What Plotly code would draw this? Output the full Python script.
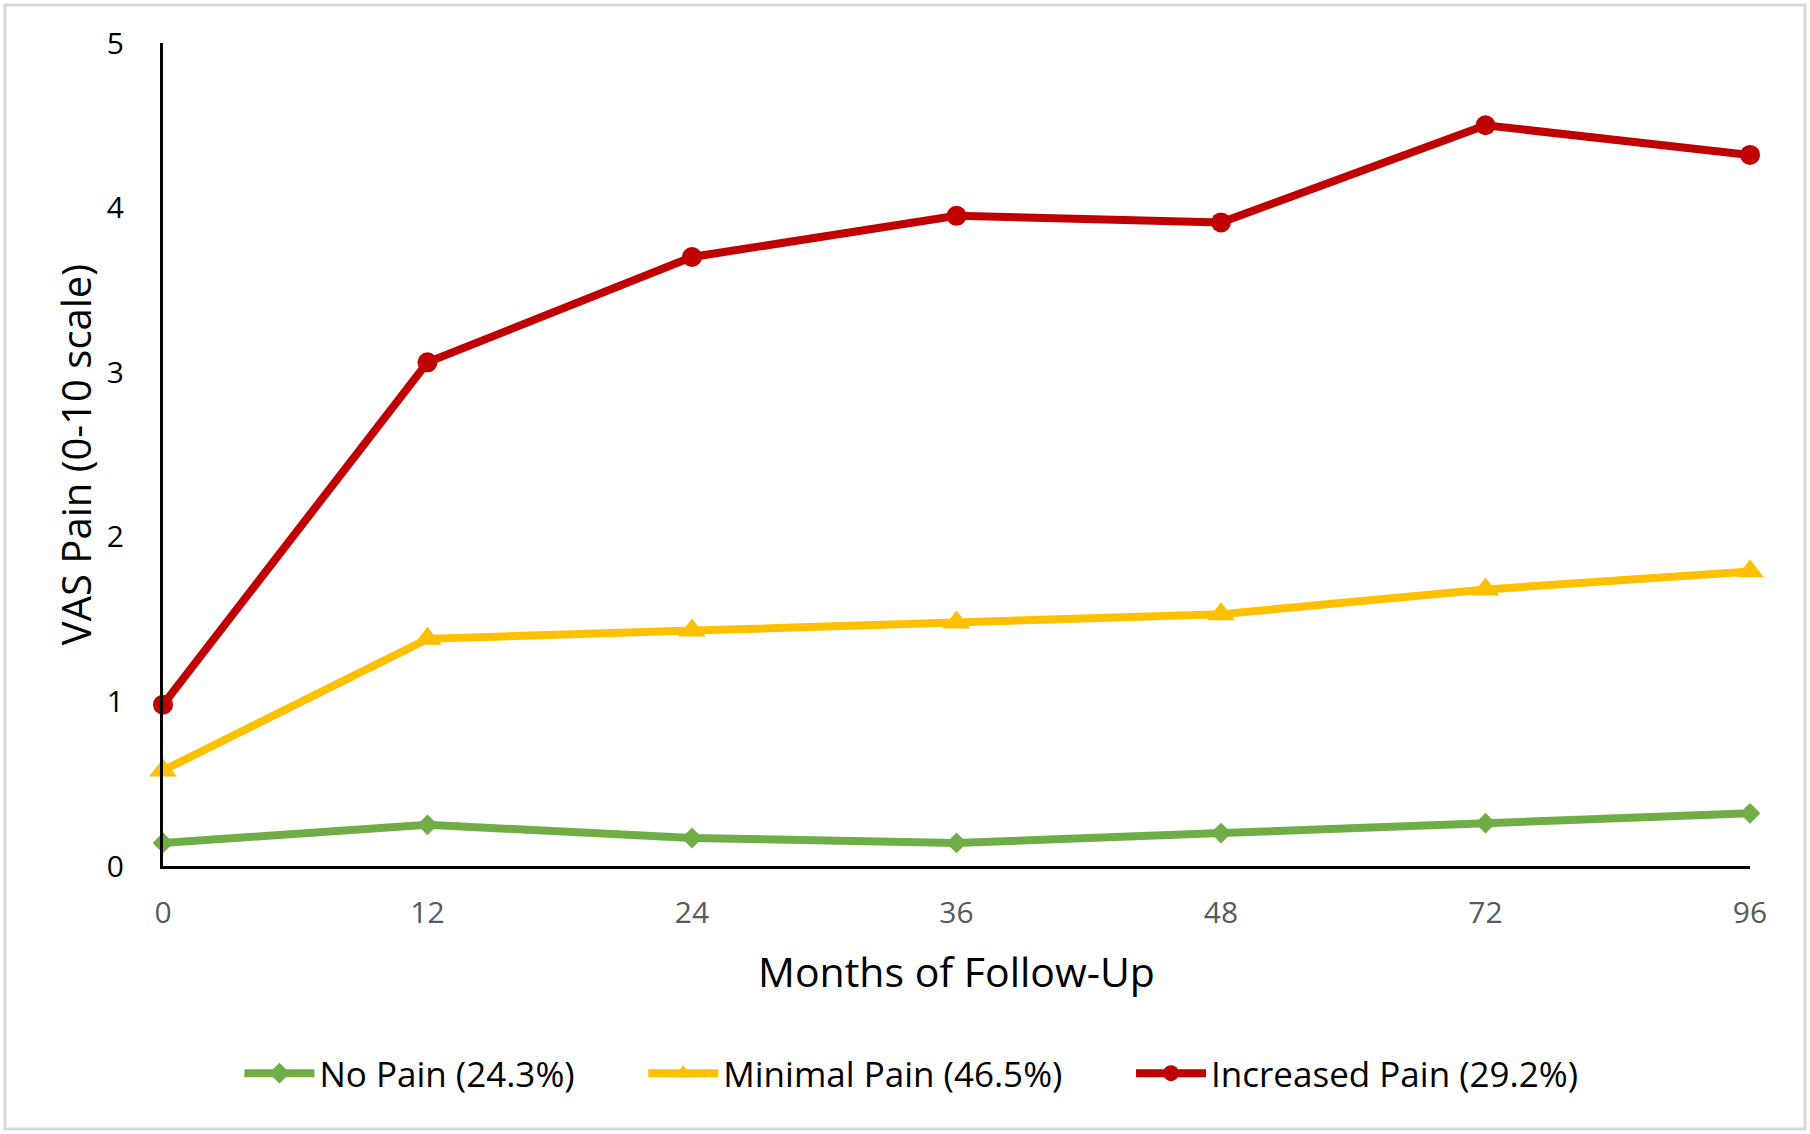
import plotly.graph_objects as go

months = ["0", "12", "24", "36", "48", "72", "96"]
no_pain = [0.14, 0.25, 0.17, 0.14, 0.20, 0.26, 0.32]
minimal_pain = [0.58, 1.38, 1.43, 1.48, 1.53, 1.68, 1.79]
increased_pain = [0.98, 3.06, 3.70, 3.95, 3.91, 4.50, 4.32]
y_ticks = [0, 1, 2, 3, 4, 5]

series_names = ["No Pain (24.3%)", "Minimal Pain (46.5%)", "Increased Pain (29.2%)"]
colors = ["#70AD47", "#FFC000", "#C00000"]
symbols = ["diamond", "triangle-up", "circle"]
sizes = [16, 24, 20]

FONT = "Open Sans"
GAP = "\u00a0" * 7  # spacing between legend entries

fig = go.Figure()
for i, (name, vals, col, sym, sz) in enumerate(zip(series_names, [no_pain, minimal_pain, increased_pain],
                                                   colors, symbols, sizes)):
    label = name + (GAP if i < len(series_names) - 1 else "")
    fig.add_trace(go.Scatter(
        x=months, y=vals, name=label, mode="lines+markers",
        line=dict(color=col, width=8),
        marker=dict(symbol=sym, size=sz, color=col, line=dict(width=0)),
        cliponaxis=False,
    ))

fig.update_layout(
    template="none",
    width=1810, height=1134,
    margin=dict(l=163, r=60, t=43, b=268, autoexpand=False),
    paper_bgcolor="white", plot_bgcolor="white",
    font=dict(family=FONT, color="black"),
    showlegend=True,
    legend=dict(
        orientation="h", x=0.4716, xanchor="center", y=-0.252, yanchor="middle",
        font=dict(family=FONT, size=35, color="black"),
        itemwidth=70, itemsizing="trace", traceorder="normal",
        bgcolor="rgba(0,0,0,0)", itemclick=False, itemdoubleclick=False,
    ),
    xaxis=dict(
        type="category", range=[0, 6], showgrid=False, zeroline=False,
        showline=True, linecolor="black", linewidth=3,
        ticks="", ticklabelstandoff=18,
        tickfont=dict(family=FONT, size=30, color="#595959"),
        title=dict(text="Months of Follow-Up", font=dict(family=FONT, size=41, color="black"),
                   standoff=28),
        automargin=False, fixedrange=True,
    ),
    yaxis=dict(
        range=[0, 5], tickvals=y_ticks, showgrid=False, zeroline=False,
        showline=True, linecolor="black", linewidth=3,
        ticks="", ticklabelstandoff=30,
        tickfont=dict(family=FONT, size=30, color="black"),
        title=dict(text="VAS Pain (0-10 scale)", font=dict(family=FONT, size=40, color="black"),
                   standoff=3),
        automargin=False, fixedrange=True,
    ),
    shapes=[dict(
        type="rect", xref="paper", yref="paper",
        x0=(5 - 163) / 1587, x1=(1805 - 163) / 1587,
        y0=(866 - 1129) / 823, y1=(866 - 5) / 823,
        line=dict(color="#D9D9D9", width=3), fillcolor="rgba(0,0,0,0)", layer="below",
    )],
)

fig.write_html("out.html", config={"displayModeBar": False},
               post_script="document.body.style.margin='0';document.body.style.overflow='hidden';")
